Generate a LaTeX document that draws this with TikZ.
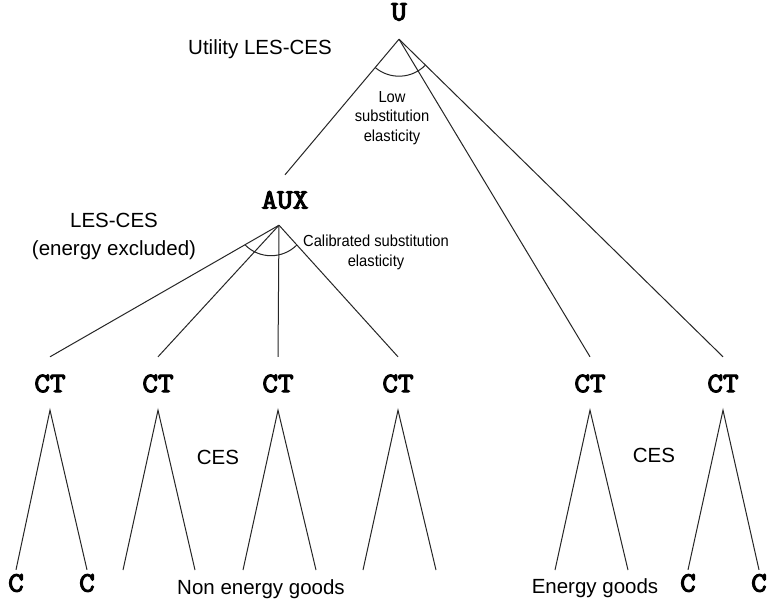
\documentclass[tikz,border=0pt]{standalone}
\usepackage{fontspec}
\setmainfont{Liberation Sans}
\newfontfamily\codefont[FakeBold=4, FakeStretch=1.08]{Latin Modern Mono}
\newfontfamily\narrowfont[FakeStretch=0.92]{Liberation Sans}
\usetikzlibrary{calc}
\begin{document}
\begin{tikzpicture}[x=1pt,y=-1pt,
  lbl/.style={font=\codefont\fontsize{28}{30}\selectfont, inner sep=0pt},
  note/.style={font=\fontsize{20.5}{28}\selectfont, inner sep=0pt, align=center},
  small/.style={font=\narrowfont\fontsize{16}{19.5}\selectfont, inner sep=0pt, align=center},
  branch/.style={line width=1pt, draw=black!85},
]
\path[use as bounding box, fill=white] (0,0) rectangle (770,600);

% tree nodes
\node[lbl, minimum height=54pt] (U) at (399,12) {U};
\node[lbl, minimum height=50pt] (AUX) at (285,200) {AUX};
\coordinate (AUXa) at ([xshift=-6pt]AUX.south);
\foreach \i/\x in {1/50,2/158,3/278,4/398,5/590,6/723}
  \node[lbl, minimum height=53pt] (CT\i) at (\x,383.5) {CT};
\node[lbl, minimum height=26pt] (C1) at (16,583) {C};
\node[lbl, minimum height=26pt] (C2) at (87,583) {C};
\node[lbl, minimum height=26pt] (C3) at (688,583) {C};
\node[lbl, minimum height=26pt] (C4) at (759,583) {C};

% open leaf ends
\coordinate (l2a) at (123,570);
\coordinate (l2b) at (195,570);
\coordinate (l3a) at (243,570);
\coordinate (l3b) at (316,570);
\coordinate (l4a) at (363,570);
\coordinate (l4b) at (436,570);
\coordinate (l5a) at (555,570);
\coordinate (l5b) at (628,570);

% top level
\draw[branch] (U.south) -- (AUX.north);
\draw[branch] (U.south) -- (CT5.north);
\draw[branch] (U.south) -- (CT6.north);
\draw[branch] ([shift={(230:37pt)}]U.south) arc[start angle=230, end angle=315.5, radius=37pt];

% non-energy nest
\foreach \i in {1,2,3,4}
  \draw[branch] (AUXa) -- (CT\i.north);
\coordinate (AUXc) at ($(AUXa)+(-8,-6)$);
\draw[branch] ([shift={(225:36.5pt)}]AUXc) arc[start angle=225, end angle=315, radius=36.5pt];

% bottom CES nests
\draw[branch] (C1.north) -- (CT1.south) -- (C2.north);
\draw[branch] (l2a) -- (CT2.south) -- (l2b);
\draw[branch] (l3a) -- (CT3.south) -- (l3b);
\draw[branch] (l4a) -- (CT4.south) -- (l4b);
\draw[branch] (l5a) -- (CT5.south) -- (l5b);
\draw[branch] (C3.north) -- (CT6.south) -- (C4.north);

% annotations
\node[note] (ut) at (260,49) {Utility LES-CES};
\node[small] (low) at (392,118) {Low\\substitution\\elasticity};
\node[note] (les) at (114,236) {LES-CES\\(energy excluded)};
\node[small] (cal) at (376,252.5) {Calibrated substitution\\elasticity};
\node[note] (ces1) at (218,457) {CES};
\node[note] (ces2) at (654,455) {CES};
\node[note] (neg) at (261,589) {Non energy goods};
\node[note] (eg) at (595,588) {Energy goods};
\end{tikzpicture}
\end{document}
